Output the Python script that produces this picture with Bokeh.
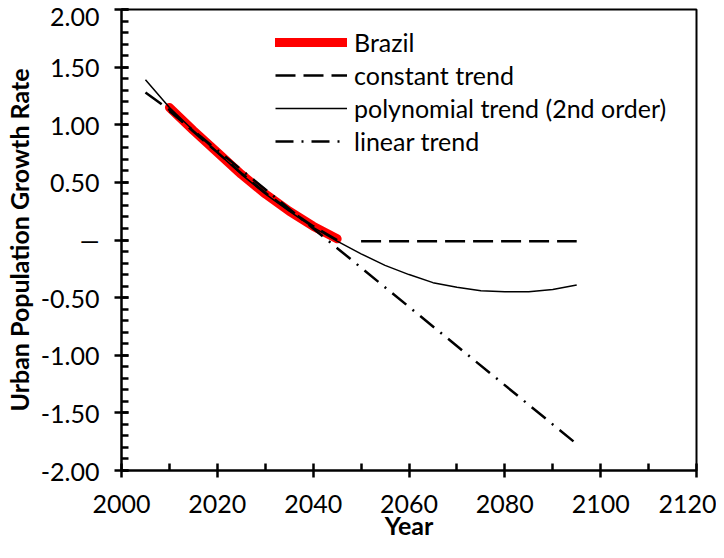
import math
from bokeh.plotting import figure
from bokeh.models import Range1d, FixedTicker, Legend, LegendItem
from bokeh.embed import file_html
from bokeh.resources import INLINE

# ---- data ----
brazil_years = [2010, 2015, 2020, 2025, 2030, 2035, 2040, 2045]
brazil_vals = [1.15, 0.95, 0.76, 0.57, 0.40, 0.25, 0.12, 0.01]

const_years = [2005, 2010, 2015, 2020, 2025, 2030, 2035, 2040, 2045, 2047,
               2050, 2055, 2060, 2065, 2070, 2075, 2080, 2085, 2090, 2095]
const_vals = [1.28, 1.13, 0.94, 0.76, 0.58, 0.41, 0.26, 0.12, 0.00, float("nan"),
              -0.01, -0.01, -0.01, -0.01, -0.01, -0.01, -0.01, -0.01, -0.01, -0.01]

poly_years = [2005, 2010, 2015, 2020, 2025, 2030, 2035, 2040, 2045, 2050,
              2055, 2060, 2065, 2070, 2075, 2080, 2085, 2090, 2095]
poly_vals = [1.39, 1.15, 0.95, 0.76, 0.57, 0.40, 0.25, 0.11, -0.01, -0.12,
             -0.22, -0.30, -0.37, -0.41, -0.44, -0.45, -0.45, -0.43, -0.39]

lin_years = [2010, 2095]
lin_vals = [1.12, -1.77]

x_ticks = [2000, 2020, 2040, 2060, 2080, 2100, 2120]
x_minor = [2010, 2030, 2050, 2070, 2090, 2110]
y_ticks = [-2.0, -1.5, -1.0, -0.5, 0.0, 0.5, 1.0, 1.5, 2.0]
y_tick_labels = ["-2.00", "-1.50", "-1.00", "-0.50", "\u2014", "0.50", "1.00", "1.50", "2.00"]
y_minor = [round(-2 + 0.1 * i, 1) for i in range(41)]

legend_labels = ["Brazil", "constant trend", "polynomial trend (2nd order)", "linear trend"]
x_title = "Year"
y_title = "Urban Population Growth Rate"

FONT = "Lato"
FS = "25px"

p = figure(width=716, height=542, x_range=Range1d(2000, 2120), y_range=Range1d(-2, 2),
           output_backend="svg", toolbar_location=None,
           min_border_left=115, min_border_right=20, min_border_top=9, min_border_bottom=72)

p.xgrid.grid_line_color = None
p.ygrid.grid_line_color = None
p.outline_line_color = "black"
p.outline_line_width = 2
p.outline_line_alpha = 1
p.background_fill_color = "white"
p.border_fill_color = "white"

r_brazil = p.line(brazil_years, brazil_vals, line_color="#ff0000", line_width=9, line_cap="round")
r_const = p.line(const_years, const_vals, line_color="black", line_width=2.5, line_dash="20 8")
r_poly = p.line(poly_years, poly_vals, line_color="black", line_width=1.5)
r_lin = p.line(lin_years, lin_vals, line_color="black", line_width=2.5, line_dash="18 8 2 8")

xa = p.xaxis[0]
ya = p.yaxis[0]
for ax in (xa, ya):
    ax.axis_line_color = "black"
    ax.axis_line_width = 2
    ax.major_tick_line_color = "#000000"
    ax.major_tick_line_width = 2.5
    ax.minor_tick_line_color = "#000000"
    ax.minor_tick_line_width = 2.5
    ax.major_tick_in = 7
    ax.major_tick_out = 7
    ax.minor_tick_in = 7
    ax.minor_tick_out = 0
    ax.major_label_text_font = FONT
    ax.major_label_text_font_size = FS
    ax.major_label_text_color = "black"
    ax.axis_label_text_font = FONT
    ax.axis_label_text_font_size = FS
    ax.axis_label_text_font_style = "bold"
    ax.axis_label_text_color = "black"

xa.ticker = FixedTicker(ticks=x_ticks, minor_ticks=x_minor)
ya.ticker = FixedTicker(ticks=y_ticks, minor_ticks=y_minor)
ya.major_label_overrides = {t: l for t, l in zip(y_ticks, y_tick_labels)}
xa.major_label_standoff = 17
ya.major_label_standoff = 15
xa.axis_label = x_title
xa.axis_label_standoff = -6
ya.axis_label = y_title
ya.axis_label_standoff = 4

legend = Legend(items=[
    LegendItem(label=legend_labels[0], renderers=[r_brazil]),
    LegendItem(label=legend_labels[1], renderers=[r_const]),
    LegendItem(label=legend_labels[2], renderers=[r_poly]),
    LegendItem(label=legend_labels[3], renderers=[r_lin]),
], location=(154, 313))
legend.background_fill_alpha = 0
legend.border_line_alpha = 0
legend.padding = 0
legend.margin = 0
legend.spacing = 1
legend.glyph_width = 72
legend.glyph_height = 32
legend.label_height = 32
legend.label_standoff = 7
legend.label_text_font = FONT
legend.label_text_font_size = FS
legend.label_text_color = "black"
p.add_layout(legend, "center")

open("out.html", "w").write(file_html(p, INLINE))
